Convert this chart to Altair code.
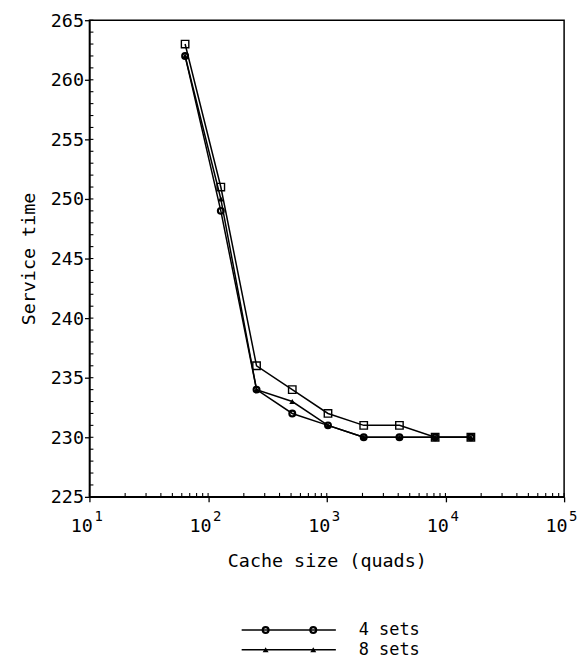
import altair as alt
import pandas as pd

# ---------------- data ----------------
cache_sizes = [64, 128, 256, 512, 1024, 2048, 4096, 8192, 16384]
series_names = ["2 sets", "4 sets", "8 sets"]
service_2_sets = [263, 251, 236, 234, 232, 231, 231, 230, 230]   # squares
service_4_sets = [262, 249, 234, 232, 231, 230, 230, 230, 230]   # circles
service_8_sets = [262, 250, 234, 233, 231, 230, 230, 230, 230]   # triangles

y_major_ticks = [225, 230, 235, 240, 245, 250, 255, 260, 265]
y_minor_ticks = list(range(225, 266))
x_major_ticks = [10, 100, 1000, 10000, 100000]
x_tick_base = "10"
x_tick_exponents = ["1", "2", "3", "4", "5"]
x_minor_ticks = [m * 10 ** k for k in range(1, 5) for m in range(1, 10)] + [100000]

legend_labels = ["4 sets", "8 sets"]

# legend layout (fractions of the legend strip width)
LEG_LINE = (0.438, 0.709)
LEG_MARKS = (0.507, 0.644)
LEG_TEXT = 0.775

# ---------------- tables ----------------
rows = []
for name, vals in zip(series_names, [service_2_sets, service_4_sets, service_8_sets]):
    for s, v in zip(cache_sizes, vals):
        rows.append({"series": name, "size": s, "time": v})
df = pd.DataFrame(rows)
exp_df = pd.DataFrame({"size": x_major_ticks, "exp": x_tick_exponents})

FONT = "DejaVu Sans Mono"
FS = 18.5
W, H = 478, 480

x_scale = alt.Scale(type="log", domain=[10, 100000], nice=False)
y_scale = alt.Scale(domain=[225, 265], nice=False, zero=False)

x_axis = alt.Axis(values=x_major_ticks, labelExpr=f"'{x_tick_base}'", title="Cache size (quads)",
                  tickSize=5, labelPadding=15, titlePadding=17, labelAlign="right",
                  labelOffset=3)
y_axis = alt.Axis(values=y_major_ticks, title="Service time", tickSize=5,
                  labelPadding=1, titlePadding=12)
x_enc = alt.X("size:Q", scale=x_scale, axis=x_axis)
y_enc = alt.Y("time:Q", scale=y_scale, axis=y_axis)

base = alt.Chart(df)
lines = base.mark_line(color="black", strokeWidth=1.5).encode(
    x=x_enc, y=y_enc, detail="series:N", order="size:Q"
)
squares = base.transform_filter(alt.datum.series == "2 sets").mark_point(
    shape="square", filled=False, color="black", strokeWidth=1.4, size=56, opacity=1
).encode(x=x_enc, y=y_enc)
circles = base.transform_filter(alt.datum.series == "4 sets").mark_point(
    shape="circle", filled=False, color="black", strokeWidth=2.2, size=34, opacity=1
).encode(x=x_enc, y=y_enc)
triangles = base.transform_filter(alt.datum.series == "8 sets").mark_point(
    shape="triangle-up", filled=True, color="black", size=36, opacity=1
).encode(x=x_enc, y=y_enc)

y_ticks_in = alt.Chart(pd.DataFrame({"time": y_minor_ticks})).mark_rule(
    color="black", strokeWidth=1.1
).encode(y=y_enc, x=alt.value(0), x2=alt.value(4))
x_ticks_in = alt.Chart(pd.DataFrame({"size": x_minor_ticks})).mark_rule(
    color="black", strokeWidth=1.1
).encode(x=x_enc, y=alt.value(H), y2=alt.value(H - 4))

# exponents of the x tick labels (superscripts)
exponents = alt.Chart(exp_df).mark_text(
    align="left", baseline="bottom", dx=5, font=FONT, fontSize=14, color="black"
).encode(x=x_enc, y=alt.value(H + 27), text="exp:N")

main = alt.layer(lines, y_ticks_in, x_ticks_in, squares, circles, triangles,
                 exponents).properties(width=W, height=H)

# ---------------- legend (line with two markers + label) ----------------
line_rows, mark_rows = [], []
for i, lab in enumerate(legend_labels):
    line_rows.append({"label": lab, "row": i, "x0": LEG_LINE[0], "x1": LEG_LINE[1], "tx": LEG_TEXT})
    for p in LEG_MARKS:
        mark_rows.append({"label": lab, "row": i, "px": p})
leg_line_df = pd.DataFrame(line_rows)
leg_mark_df = pd.DataFrame(mark_rows)

LW, LH = 350, 40
lx = alt.Scale(domain=[0, 1])
ly = alt.Y("row:O", axis=None)

leg_line = alt.Chart(leg_line_df).mark_rule(color="black", strokeWidth=1.5).encode(
    x=alt.X("x0:Q", scale=lx, axis=None), x2="x1:Q", y=ly
)
leg_circ = alt.Chart(leg_mark_df).transform_filter(alt.datum.row == 0).mark_point(
    shape="circle", filled=False, color="black", strokeWidth=2.2, size=34, opacity=1
).encode(x=alt.X("px:Q", scale=lx, axis=None), y=ly)
leg_tri = alt.Chart(leg_mark_df).transform_filter(alt.datum.row == 1).mark_point(
    shape="triangle-up", filled=True, color="black", size=36, opacity=1
).encode(x=alt.X("px:Q", scale=lx, axis=None), y=ly)
leg_text = alt.Chart(leg_line_df).mark_text(
    align="left", baseline="middle", font=FONT, fontSize=17, color="black"
).encode(x=alt.X("tx:Q", scale=lx, axis=None), y=ly, text="label:N")

legend = alt.layer(leg_line, leg_circ, leg_tri, leg_text).properties(
    width=LW, height=LH, view=alt.ViewConfig(stroke=None)
)

chart = alt.vconcat(main, legend, spacing=49).properties(
    padding={"left": 10, "top": 0, "right": 0, "bottom": 0}
).configure_view(stroke="black", strokeWidth=1.5).configure_axis(
    grid=False, domainColor="black", tickColor="black", labelColor="black",
    titleColor="black", labelFont=FONT, titleFont=FONT, labelFontSize=FS,
    titleFontSize=FS, titleFontWeight="normal", domainWidth=1.5, tickWidth=1.3
)

chart.save("out.html", embed_options={"renderer": "svg", "actions": False})
